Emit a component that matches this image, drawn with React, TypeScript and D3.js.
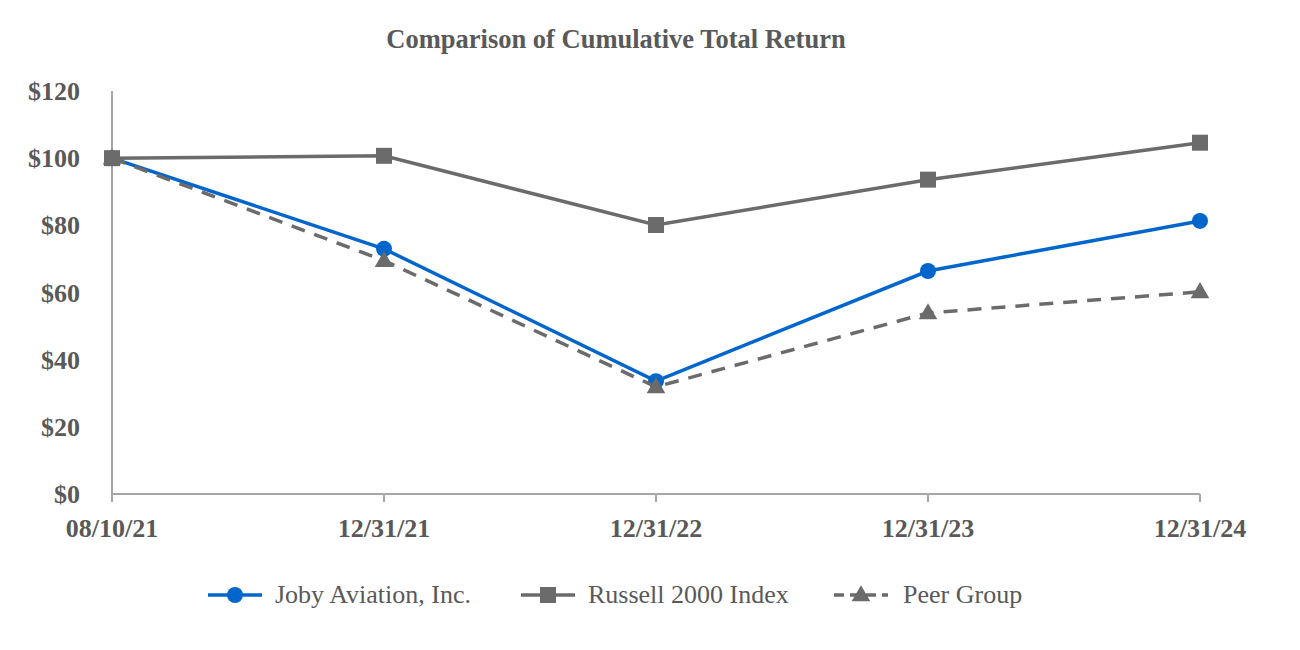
import React from "react";
import * as d3 from "d3";

const categories = ["08/10/21", "12/31/21", "12/31/22", "12/31/23", "12/31/24"];
const joby = [100, 73, 33.6, 66.4, 81.3];
const russell = [100, 100.7, 80.1, 93.6, 104.6];
const peer = [100, 69.5, 31.9, 53.9, 60.2];
const yTicks = [0, 20, 40, 60, 80, 100, 120];
const seriesNames = ["Joby Aviation, Inc.", "Russell 2000 Index", "Peer Group"];

const BLUE = "#0066CC";
const GRAY = "#6B6B6B";
const TEXT = "#595959";
const AXIS = "#A6A6A6";
const FONT = "Liberation Serif, Times New Roman, DejaVu Serif, serif";

export default function App() {
  const W = 1300, H = 650;
  const x = d3.scalePoint<string>().domain(categories).range([112, 1200]);
  const y = d3.scaleLinear().domain([0, 120]).range([494, 91]);
  const line = d3
    .line<number>()
    .x((_, i) => x(categories[i]) as number)
    .y((d) => y(d));

  const tri = d3.symbol().type(d3.symbolTriangle).size(150)() as string;

  const legendItems = [
    { name: seriesNames[0], x0: 208, color: BLUE, dash: undefined, marker: "circle", tx: 275 },
    { name: seriesNames[1], x0: 521, color: GRAY, dash: undefined, marker: "square", tx: 588 },
    { name: seriesNames[2], x0: 834, color: GRAY, dash: "10,6", marker: "triangle", tx: 903 },
  ];

  const txt = { fontFamily: FONT } as React.CSSProperties;

  return (
    <svg width={W} height={H} style={{ display: "block", position: "absolute", left: 0, top: 0, fontFamily: FONT }}>
      <rect width={W} height={H} fill="#fff" />
      <text x={616} y={48} textAnchor="middle" style={txt} fontWeight="bold" fontSize={26.5} fill={TEXT}>
        Comparison of Cumulative Total Return
      </text>

      {/* axes */}
      <line x1={112} x2={112} y1={y(120)} y2={y(0)} stroke={AXIS} strokeWidth={2} />
      <line x1={112} x2={1200} y1={y(0)} y2={y(0)} stroke={AXIS} strokeWidth={2} />
      {categories.map((c) => (
        <g key={c}>
          <line x1={x(c)} x2={x(c)} y1={y(0)} y2={y(0) + 8} stroke={AXIS} strokeWidth={2} />
          <text x={x(c)} y={537} textAnchor="middle" style={txt} fontWeight="bold" fontSize={26} fill={TEXT}>
            {c}
          </text>
        </g>
      ))}
      {yTicks.map((t) => (
        <text key={t} x={80} y={y(t) + 9} textAnchor="end" style={txt} fontWeight="bold" fontSize={26} fill={TEXT}>
          ${t}
        </text>
      ))}

      {/* series: drawn in order Joby, Russell, Peer */}
      <path d={line(joby) as string} fill="none" stroke={BLUE} strokeWidth={3.5} />
      {joby.map((v, i) => (
        <circle key={"j" + i} cx={x(categories[i]) as number} cy={y(v)} r={8} fill={BLUE} />
      ))}
      <path d={line(russell) as string} fill="none" stroke={GRAY} strokeWidth={3.5} />
      {russell.map((v, i) => (
        <rect key={"r" + i} x={(x(categories[i]) as number) - 8} y={y(v) - 8} width={16} height={16} fill={GRAY} />
      ))}
      <path d={line(peer) as string} fill="none" stroke={GRAY} strokeWidth={3.5} strokeDasharray="14,10" />
      {peer.map((v, i) => (
        <path key={"p" + i} d={tri} transform={`translate(${x(categories[i])},${y(v) + 1})`} fill={GRAY} />
      ))}

      {/* legend */}
      {legendItems.map((it) => (
        <g key={it.name}>
          <line x1={it.x0} x2={it.x0 + 54} y1={595} y2={595} stroke={it.color} strokeWidth={3.5} strokeDasharray={it.dash} />
          {it.marker === "circle" && <circle cx={it.x0 + 27} cy={595} r={8} fill={it.color} />}
          {it.marker === "square" && <rect x={it.x0 + 19} y={587} width={16} height={16} fill={it.color} />}
          {it.marker === "triangle" && (
            <path d={tri} transform={`translate(${it.x0 + 27},${596})`} fill={it.color} />
          )}
          <text x={it.tx} y={603} style={txt} fontSize={26} fill={TEXT}>
            {it.name}
          </text>
        </g>
      ))}
    </svg>
  );
}
